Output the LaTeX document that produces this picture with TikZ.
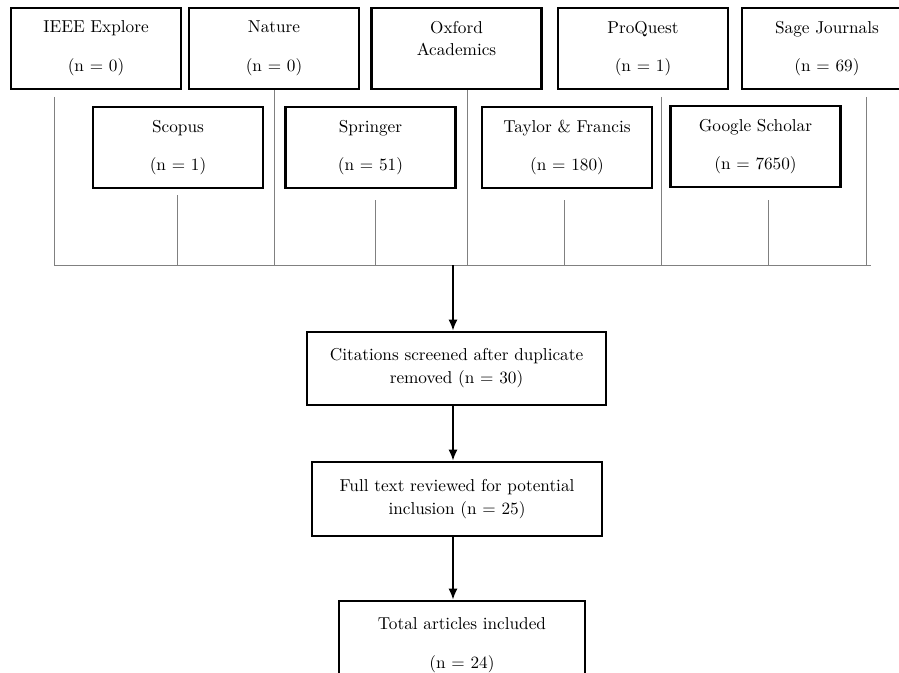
\documentclass[tikz,border=0pt]{standalone}
\usepackage{tikz}
\usetikzlibrary{arrows.meta}
\pgfdeclarelayer{edgelayer}
\pgfdeclarelayer{nodelayer}
\pgfsetlayers{edgelayer,nodelayer,main}
\tikzstyle{source}=[rectangle,fill=white,draw=black,line width=1.6pt,minimum width=3.4cm,minimum height=1.62cm,align=center,font=\fontsize{9.8}{13}\selectfont]
\tikzstyle{stage}=[rectangle,fill=white,draw=black,line width=1.6pt,align=center,font=\fontsize{9.8}{13}\selectfont]
\tikzstyle{tap}=[draw=gray,line width=0.55pt]
\tikzstyle{flow}=[draw=black,line width=0.8pt,-{Latex[length=2.2mm,width=1.8mm]}]
\begin{document}
\begin{tikzpicture}
					\useasboundingbox (0.000,0.000) rectangle (17.980,13.440);
					\begin{pgfonlayer}{nodelayer}
						\node [style=source] (0) at (1.920,12.470) {IEEE Explore\\[9pt](n = 0)};
						\node [style=source] (1) at (5.480,12.470) {Nature\\[9pt](n = 0)};
						\node [style=source] (2) at (9.130,12.470) {Oxford\\Academics\\[-4pt]\phantom{(n)}};
						\node [style=source] (3) at (12.860,12.470) {ProQuest\\[9pt](n = 1)};
						\node [style=source] (4) at (16.540,12.470) {Sage Journals\\[9pt](n = 69)};
						\node [style=source] (5) at (3.560,10.490) {Scopus\\[9pt](n = 1)};
						\node [style=source] (6) at (7.410,10.490) {Springer\\[9pt](n = 51)};
						\node [style=source] (7) at (11.340,10.490) {Taylor \& Francis\\[9pt](n = 180)};
						\node [style=source] (8) at (15.110,10.510) {Google Scholar\\[9pt](n = 7650)};
						\node [style=stage, minimum width=5.98cm, minimum height=1.46cm] (9) at (9.130,6.070) {Citations screened after duplicate\\removed (n = 30)};
						\node [style=stage, minimum width=5.8cm, minimum height=1.48cm] (10) at (9.140,3.460) {Full text reviewed for potential\\inclusion (n = 25)};
						\node [style=stage, minimum width=4.92cm, minimum height=1.78cm] (11) at (9.240,0.530) {Total articles included\\[9pt](n = 24)};
					\end{pgfonlayer}
					\begin{pgfonlayer}{edgelayer}
						\coordinate (12) at (1.080,11.500);
						\coordinate (13) at (1.080,8.140);
						\coordinate (14) at (3.540,9.540);
						\coordinate (15) at (3.540,8.140);
						\coordinate (16) at (5.480,8.140);
						\coordinate (17) at (7.500,9.440);
						\coordinate (18) at (7.500,8.140);
						\coordinate (19) at (9.340,11.660);
						\coordinate (20) at (9.340,8.140);
						\coordinate (21) at (11.280,9.440);
						\coordinate (22) at (11.280,8.140);
						\coordinate (23) at (13.220,11.500);
						\coordinate (24) at (13.220,8.140);
						\coordinate (25) at (15.360,9.440);
						\coordinate (26) at (15.360,8.140);
						\coordinate (27) at (17.320,11.500);
						\coordinate (28) at (17.320,8.140);
						\coordinate (29) at (17.420,8.140);
						\coordinate (30) at (9.060,8.140);
						\draw [style=tap] (12) to (13);
						\draw [style=tap] (14) to (15);
						\draw [style=tap] (1) to (16);
						\draw [style=tap] (17) to (18);
						\draw [style=tap] (19) to (20);
						\draw [style=tap] (21) to (22);
						\draw [style=tap] (23) to (24);
						\draw [style=tap] (25) to (26);
						\draw [style=tap] (27) to (28);
						\draw [style=tap] (13) to (29);
						\draw [style=flow] (30) to (30 |- 9.north);
						\draw [style=flow] (9.south -| 30) to (10.north -| 30);
						\draw [style=flow] (10.south -| 30) to (11.north -| 30);
					\end{pgfonlayer}
				\end{tikzpicture}
\end{document}
